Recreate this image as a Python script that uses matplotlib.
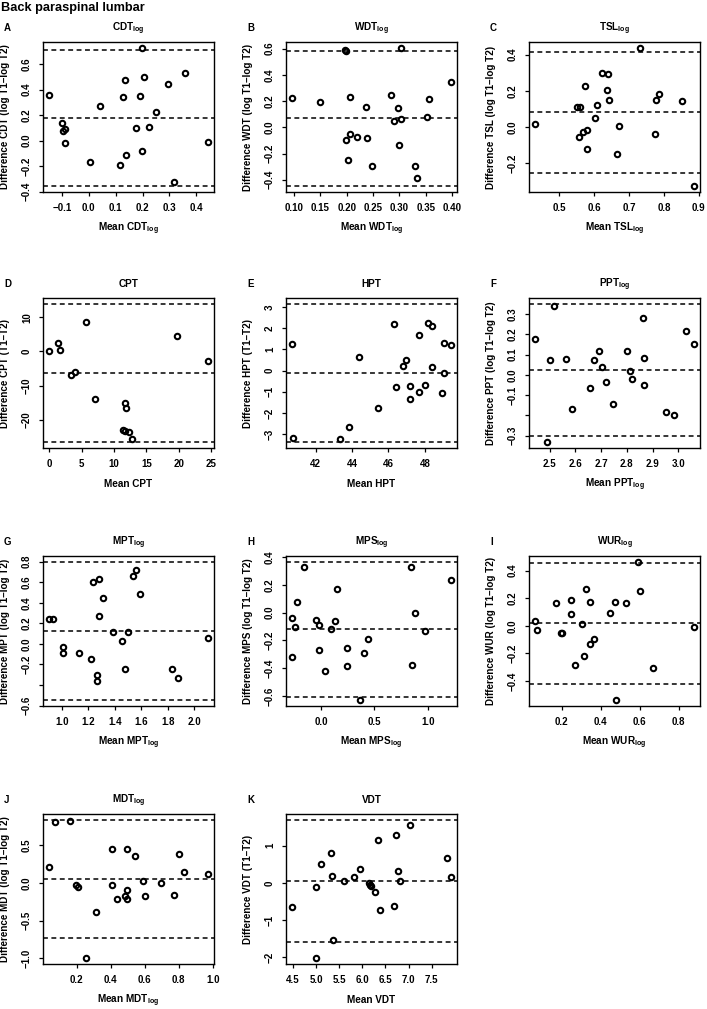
import matplotlib

matplotlib.use("Agg")
import matplotlib.pyplot as plt

# ---- data (Bland-Altman, back paraspinal lumbar) ----
cdt_x = [-0.147, -0.101, -0.097, -0.089, -0.087, 0.005, 0.040, 0.116, 0.126, 0.134, 0.139,
         0.175, 0.191, 0.196, 0.198, 0.204, 0.224, 0.249, 0.293, 0.318, 0.359, 0.442]
cdt_y = [0.355, 0.141, 0.078, 0.091, -0.016, -0.172, 0.269, -0.195, 0.339, 0.475, -0.115,
         0.099, 0.352, 0.730, -0.083, 0.496, 0.110, 0.224, 0.444, -0.326, 0.532, -0.013]
cdt_loa = [0.71, 0.175, -0.36]

wdt_x = [0.097, 0.150, 0.196, 0.199, 0.199, 0.202, 0.207, 0.206, 0.220, 0.237, 0.238, 0.248,
         0.284, 0.289, 0.298, 0.302, 0.303, 0.300, 0.330, 0.333, 0.352, 0.356, 0.397]
wdt_y = [0.223, 0.195, 0.587, 0.582, -0.096, -0.253, -0.053, 0.230, -0.076, 0.152, -0.081, -0.296,
         0.243, 0.048, 0.147, 0.608, 0.063, -0.132, -0.296, -0.387, 0.076, 0.215, 0.344]
wdt_loa = [0.582, 0.068, -0.451]

tsl_x = [0.431, 0.550, 0.560, 0.557, 0.568, 0.574, 0.579, 0.578, 0.603, 0.607, 0.623,
         0.638, 0.636, 0.642, 0.664, 0.672, 0.730, 0.773, 0.776, 0.787, 0.852, 0.885]
tsl_y = [0.015, 0.112, 0.108, -0.055, -0.028, 0.224, -0.015, -0.121, 0.050, 0.121, 0.297,
         0.295, 0.206, 0.150, -0.150, 0.007, 0.439, -0.037, 0.150, 0.180, 0.143, -0.330]
tsl_loa = [0.415, 0.083, -0.255]

cpt_x = [0.0, 1.39, 1.60, 3.40, 3.97, 5.72, 7.11, 11.65, 11.9, 11.34, 11.7, 12.27, 12.8, 19.74, 24.5]
cpt_y = [0.0, 2.43, 0.29, -6.89, -6.02, 8.54, -13.8, -15.2, -16.5, -23.0, -23.2, -23.5, -25.7, 4.56, -2.82]
cpt_loa = [14.0, -6.4, -26.6]

hpt_x = [40.72, 40.76, 43.32, 43.81, 44.36, 45.45, 46.31, 46.40, 46.80, 46.95, 47.19,
         47.19, 47.68, 47.68, 47.99, 48.16, 48.37, 48.39, 48.94, 49.03, 49.07, 49.42]
hpt_y = [1.25, -3.18, -3.23, -2.68, 0.63, -1.77, 2.21, -0.75, 0.20, 0.52, -0.74,
         -1.32, 1.69, -1.02, -0.66, 2.26, 2.13, 0.17, -1.05, 1.33, -0.11, 1.21]
hpt_loa = [3.17, -0.125, -3.39]

ppt_x = [2.445, 2.492, 2.503, 2.518, 2.563, 2.589, 2.658, 2.673, 2.693, 2.704, 2.719,
         2.745, 2.799, 2.811, 2.818, 2.861, 2.866, 2.867, 2.951, 2.982, 3.030, 3.059]
ppt_y = [0.179, -0.334, 0.075, 0.339, 0.080, -0.170, -0.067, 0.074, 0.116, 0.039, -0.033,
         -0.143, 0.116, 0.020, -0.023, 0.279, -0.049, 0.082, -0.182, -0.200, 0.218, 0.151]
ppt_loa = [0.352, 0.026, -0.30]

mpt_x = [0.904, 0.935, 1.008, 1.008, 1.128, 1.217, 1.234, 1.277, 1.264, 1.264, 1.280,
         1.310, 1.385, 1.458, 1.474, 1.501, 1.534, 1.564, 1.594, 1.834, 1.879, 2.103]
mpt_y = [0.239, 0.239, -0.029, -0.091, -0.091, -0.152, 0.599, 0.628, -0.301, -0.362, 0.269,
         0.450, 0.120, 0.029, -0.243, 0.120, 0.657, 0.718, 0.482, -0.243, -0.330, 0.055]
mpt_loa = [0.80, 0.126, -0.55]

mps_x = [-0.268, -0.268, -0.246, -0.224, -0.159, -0.044, -0.022, -0.016, 0.037, 0.090, 0.128,
         0.146, 0.246, 0.246, 0.368, 0.399, 0.442, 0.841, 0.850, 0.882, 0.972, 1.215]
mps_y = [-0.040, -0.319, -0.100, 0.074, 0.329, -0.055, -0.090, -0.269, -0.417, -0.121, -0.062,
         0.171, -0.257, -0.386, -0.631, -0.293, -0.190, 0.329, -0.376, 0.0, -0.133, 0.236]
mps_loa = [0.367, -0.119, -0.605]

wur_x = [0.064, 0.072, 0.169, 0.195, 0.203, 0.248, 0.246, 0.267, 0.304, 0.313, 0.323,
         0.343, 0.347, 0.366, 0.447, 0.473, 0.478, 0.528, 0.592, 0.603, 0.668, 0.877]
wur_y = [0.036, -0.031, 0.165, -0.053, -0.053, 0.185, 0.086, -0.281, 0.012, -0.221, 0.264,
         0.175, -0.129, -0.096, 0.094, 0.175, -0.540, 0.165, 0.465, 0.252, -0.302, -0.012]
wur_loa = [0.458, 0.017, -0.422]

mdt_x = [0.040, 0.071, 0.161, 0.194, 0.210, 0.255, 0.317, 0.407, 0.407, 0.436, 0.483,
         0.497, 0.497, 0.497, 0.544, 0.589, 0.604, 0.696, 0.770, 0.802, 0.833, 0.970]
mdt_y = [0.211, 0.811, 0.820, -0.026, -0.057, -1.0, -0.386, 0.452, -0.031, -0.211, -0.171,
         0.452, -0.088, -0.211, 0.360, 0.031, -0.175, 0.0, -0.154, 0.386, 0.149, 0.118]
mdt_loa = [0.838, 0.057, -0.728]

vdt_x = [4.486, 4.996, 5.004, 5.097, 5.327, 5.335, 5.371, 5.601, 5.809, 5.953, 6.140, 6.162,
         6.183, 6.270, 6.335, 6.392, 6.687, 6.723, 6.773, 6.809, 7.032, 7.831, 7.910]
vdt_y = [-0.652, -0.098, -2.027, 0.500, 0.804, 0.196, -1.527, 0.045, 0.161, 0.375, -0.009, -0.054,
         -0.071, -0.232, 1.161, -0.732, -0.616, 1.295, 0.330, 0.0625, 1.563, 0.670, 0.152]
vdt_loa = [1.705, 0.0625, -1.589]

# tick values and labels ("" = tick without label, as R drops overlapping ones)
cdt_xt = [-0.1, 0.0, 0.1, 0.2, 0.3, 0.4]
cdt_xl = ["\u22120.1", "0.0", "0.1", "0.2", "0.3", "0.4"]
cdt_yt = [-0.4, -0.2, 0.0, 0.2, 0.4, 0.6]
cdt_yl = ["\u22120.4", "\u22120.2", "0.0", "0.2", "0.4", "0.6"]
wdt_xt = [0.10, 0.15, 0.20, 0.25, 0.30, 0.35, 0.40]
wdt_xl = ["0.10", "0.15", "0.20", "0.25", "0.30", "0.35", "0.40"]
wdt_yt = [-0.4, -0.2, 0.0, 0.2, 0.4, 0.6]
wdt_yl = ["\u22120.4", "\u22120.2", "0.0", "0.2", "0.4", "0.6"]
tsl_xt = [0.5, 0.6, 0.7, 0.8, 0.9]
tsl_xl = ["0.5", "0.6", "0.7", "0.8", "0.9"]
tsl_yt = [-0.2, 0.0, 0.2, 0.4]
tsl_yl = ["\u22120.2", "0.0", "0.2", "0.4"]
cpt_xt = [0, 5, 10, 15, 20, 25]
cpt_xl = ["0", "5", "10", "15", "20", "25"]
cpt_yt = [-20, -10, 0, 10]
cpt_yl = ["\u221220", "\u221210", "0", "10"]
hpt_xt = [42, 44, 46, 48]
hpt_xl = ["42", "44", "46", "48"]
hpt_yt = [-3, -2, -1, 0, 1, 2, 3]
hpt_yl = ["\u22123", "\u22122", "\u22121", "0", "1", "2", "3"]
ppt_xt = [2.5, 2.6, 2.7, 2.8, 2.9, 3.0]
ppt_xl = ["2.5", "2.6", "2.7", "2.8", "2.9", "3.0"]
ppt_yt = [-0.3, -0.2, -0.1, 0.0, 0.1, 0.2, 0.3]
ppt_yl = ["\u22120.3", "", "\u22120.1", "0.0", "0.1", "0.2", "0.3"]
mpt_xt = [1.0, 1.2, 1.4, 1.6, 1.8, 2.0]
mpt_xl = ["1.0", "1.2", "1.4", "1.6", "1.8", "2.0"]
mpt_yt = [-0.6, -0.4, -0.2, 0.0, 0.2, 0.4, 0.6, 0.8]
mpt_yl = ["\u22120.6", "", "\u22120.2", "0.0", "0.2", "0.4", "0.6", "0.8"]
mps_xt = [0.0, 0.5, 1.0]
mps_xl = ["0.0", "0.5", "1.0"]
mps_yt = [-0.6, -0.4, -0.2, 0.0, 0.2, 0.4]
mps_yl = ["\u22120.6", "\u22120.4", "\u22120.2", "0.0", "0.2", "0.4"]
wur_xt = [0.2, 0.4, 0.6, 0.8]
wur_xl = ["0.2", "0.4", "0.6", "0.8"]
wur_yt = [-0.4, -0.2, 0.0, 0.2, 0.4]
wur_yl = ["\u22120.4", "\u22120.2", "0.0", "0.2", "0.4"]
mdt_xt = [0.2, 0.4, 0.6, 0.8, 1.0]
mdt_xl = ["0.2", "0.4", "0.6", "0.8", "1.0"]
mdt_yt = [-1.0, -0.5, 0.0, 0.5]
mdt_yl = ["\u22121.0", "\u22120.5", "0.0", "0.5"]
vdt_xt = [4.5, 5.0, 5.5, 6.0, 6.5, 7.0, 7.5]
vdt_xl = ["4.5", "5.0", "5.5", "6.0", "6.5", "7.0", "7.5"]
vdt_yt = [-2, -1, 0, 1]
vdt_yl = ["\u22122", "\u22121", "0", "1"]

letters = ["A", "B", "C", "D", "E", "F", "G", "H", "I", "J", "K"]
names = ["CDT", "WDT", "TSL", "CPT", "HPT", "PPT", "MPT", "MPS", "WUR", "MDT", "VDT"]
is_log = [True, True, True, False, False, True, True, True, True, True, False]

xs = [cdt_x, wdt_x, tsl_x, cpt_x, hpt_x, ppt_x, mpt_x, mps_x, wur_x, mdt_x, vdt_x]
ys = [cdt_y, wdt_y, tsl_y, cpt_y, hpt_y, ppt_y, mpt_y, mps_y, wur_y, mdt_y, vdt_y]
loas = [cdt_loa, wdt_loa, tsl_loa, cpt_loa, hpt_loa, ppt_loa, mpt_loa, mps_loa, wur_loa, mdt_loa, vdt_loa]
xticks = [cdt_xt, wdt_xt, tsl_xt, cpt_xt, hpt_xt, ppt_xt, mpt_xt, mps_xt, wur_xt, mdt_xt, vdt_xt]
xtlabs = [cdt_xl, wdt_xl, tsl_xl, cpt_xl, hpt_xl, ppt_xl, mpt_xl, mps_xl, wur_xl, mdt_xl, vdt_xl]
yticks = [cdt_yt, wdt_yt, tsl_yt, cpt_yt, hpt_yt, ppt_yt, mpt_yt, mps_yt, wur_yt, mdt_yt, vdt_yt]
ytlabs = [cdt_yl, wdt_yl, tsl_yl, cpt_yl, hpt_yl, ppt_yl, mpt_yl, mps_yl, wur_yl, mdt_yl, vdt_yl]

plt.rcParams["font.family"] = ["Liberation Sans", "DejaVu Sans"]
plt.rcParams["font.weight"] = "bold"
plt.rcParams["mathtext.fontset"] = "custom"
plt.rcParams["mathtext.rm"] = "Liberation Sans:bold"
plt.rcParams["mathtext.bf"] = "Liberation Sans:bold"

W, H = 707, 1009
fig = plt.figure(figsize=(W / 100, H / 100), dpi=100)

# pixel layout of the plot boxes
col_left = [43, 286, 529]
row_top = [42, 298, 556, 814]
bw, bh = 171, 150


def fx(x):
    return x / W


def fy(y):
    return 1 - y / H


def r_lim(vals):
    # R default: data range padded by 4% on each side
    lo, hi = min(vals), max(vals)
    pad = 0.04 * (hi - lo)
    return lo - pad, hi + pad


fig.text(fx(1), fy(11), "Back paraspinal lumbar", fontsize=9.2, fontweight="bold",
         ha="left", va="baseline")

for i in range(len(names)):
    L = col_left[i % 3]
    T = row_top[i // 3]
    ax = fig.add_axes([fx(L), fy(T + bh), bw / W, bh / H])
    name = names[i]
    sub = "$_\\mathbf{log}$" if is_log[i] else ""

    ax.plot(xs[i], ys[i], "o", ms=3.9, mfc="none", mec="black", mew=1.5, ls="none")
    for v in loas[i]:
        ax.axhline(v, color="black", lw=1.1, ls=(0, (3.2, 2.3)))

    ax.set_xlim(*r_lim(xs[i]))
    ax.set_ylim(*r_lim(list(ys[i]) + list(loas[i])))
    ax.set_xticks(xticks[i])
    ax.set_xticklabels(xtlabs[i])
    ax.set_yticks(yticks[i])
    ax.set_yticklabels(ytlabs[i], rotation=90, va="center")
    ax.tick_params(direction="out", length=3.2, width=0.9, labelsize=7)
    ax.tick_params(axis="x", pad=4.5)
    ax.tick_params(axis="y", pad=4.8)
    for sp in ax.spines.values():
        sp.set_linewidth(1.0)

    cx = L + bw / 2
    fig.text(fx(L - 39), fy(T - 11), letters[i], fontsize=7, fontweight="bold",
             ha="left", va="baseline")
    fig.text(fx(cx), fy(T - 11), name + sub, fontsize=7.2, fontweight="bold",
             ha="center", va="baseline")
    fig.text(fx(cx), fy(T + bh + 39), "Mean " + name + sub, fontsize=7.2,
             fontweight="bold", ha="center", va="baseline")
    if is_log[i]:
        ylab = "Difference " + name + " (log T1\u2013log T2)"
    else:
        ylab = "Difference " + name + " (T1\u2013T2)"
    fig.text(fx(L - 38), fy(T + bh / 2), ylab, fontsize=7.1, fontweight="bold",
             rotation=90, ha="center", va="center")

fig.savefig("out.png", dpi=100)
